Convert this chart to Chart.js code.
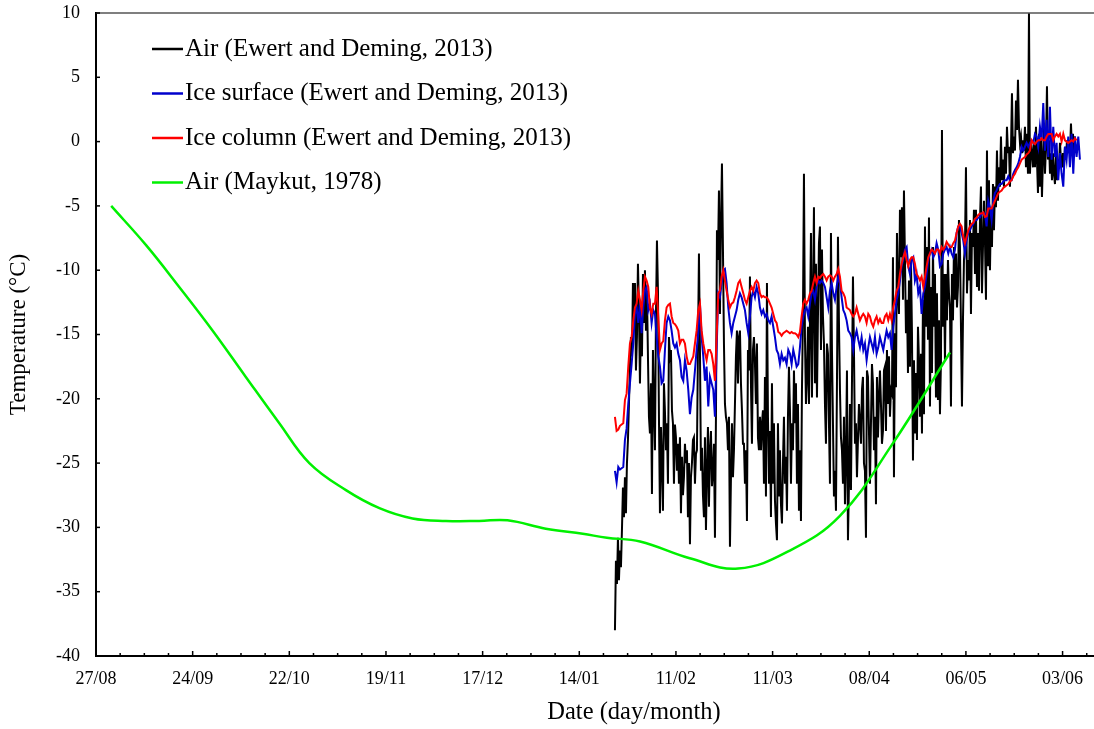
<!DOCTYPE html>
<html>
<head>
<meta charset="utf-8">
<script src="https://cdn.jsdelivr.net/npm/chart.js@4.4.1/dist/chart.umd.min.js"></script>
<style>
  html, body { margin: 0; padding: 0; background: #fff; overflow: hidden; }
  #wrap { width: 1094px; height: 729px; overflow: hidden; }
  canvas { display: block; }
</style>
</head>
<body>
<div id="wrap"><canvas id="chart" width="1172" height="729"></canvas></div>
<script>
// x values are days counted from 27/08
const tickLabels = ["27/08", "24/09", "22/10", "19/11", "17/12", "14/01", "11/02", "11/03", "08/04", "06/05", "03/06"];
const xMaxDay = 311.7;

// Air (Ewert and Deming, 2013): first sample day and sampling interval (days)
const airStartDay = 150.33;
const airStepDays = 0.2897;
const airTemps = [
  -38.0, -32.6, -34.4, -30.8, -34.1, -31.8, -33.1, -30.2, -26.9, -29.2, -26.1, -28.9,
  -25.0, -23.2, -20.4, -17.5, -15.2, -16.7, -11.0, -14.1, -11.0, -17.8, -15.2, -9.5, -13.0, -18.8,
  -14.1, -16.7, -10.3, -14.1, -10.0, -14.7, -11.6, -16.7, -21.4, -22.7, -18.8, -27.4, -16.2, -20.5,
  -24.0, -13.6, -7.7, -11.6, -21.4, -28.9, -22.2, -25.0, -28.7, -18.8, -21.0, -24.0, -21.9, -26.6,
  -15.2, -16.7, -16.2, -20.9, -21.9, -26.6, -22.0, -23.0, -25.6, -23.5, -26.6, -23.0, -28.9, -24.5,
  -27.5, -26.1, -23.5, -25.0, -24.0, -29.2, -25.0, -31.3, -26.1, -25.0, -23.2, -23.0, -26.6, -24.3,
  -24.0, -16.2, -8.7, -16.2,
  -25.6, -23.8, -27.5, -29.2, -23.0, -30.2, -25.6, -22.2, -28.4, -24.0, -22.5, -26.8, -25.6, -23.5, -30.8,
  -21.4, -6.9, -9.2, -3.8, -13.4, -6.4, -1.7, -8.4, -15.7, -20.4, -21.4, -21.9, -24.0, -21.4, -31.5,
  -26.1, -21.9, -26.1, -24.0, -20.4, -16.7, -14.7, -18.8, -15.2, -14.7, -18.8, -20.9, -23.5, -23.5,
  -26.6, -24.0, -29.5, -16.2, -17.8, -10.5, -18.8, -23.5, -16.2, -15.2, -17.3, -20.4, -15.7, -23.0,
  -24.0, -21.4, -24.0, -21.9, -20.9, -26.6, -18.3, -27.6, -11.0, -21.4, -26.6, -22.5, -29.2, -18.8,
  -26.6, -21.9, -27.9, -29.7, -31.0, -21.9, -27.6, -24.0, -28.2, -29.7, -25.0, -21.4, -26.6, -24.5,
  -28.7, -21.4, -17.5, -20.9, -26.6, -21.9, -24.0, -17.8, -21.9,
  -18.8, -26.6, -20.4, -28.7, -24.0, -29.5, -19.3, -13.6, -2.5, -15.2, -20.4, -18.3, -14.4, -20.4,
  -14.1, -7.1, -19.9, -12.6, -5.1, -18.8, -9.5, -19.9, -13.6, -7.9, -6.6, -16.2, -8.4, -13.6, -15.7,
  -20.4, -23.5, -15.7, -16.5, -21.9, -26.6, -7.1, -16.2, -21.9, -27.6, -25.6, -28.7, -18.8, -7.4,
  -14.1, -19.3, -23.0, -24.0, -26.6, -21.4, -28.2, -24.5, -17.8, -31.0, -26.6, -20.4, -27.1, -18.8,
  -10.5, -16.2, -23.5, -21.9, -26.1, -23.2, -20.4, -21.9, -23.5, -19.3, -18.3, -25.0, -25.6, -30.8,
  -17.8, -18.3, -22.5, -26.6, -21.9, -17.3, -18.8, -24.0, -21.4, -28.2, -18.3, -23.0, -19.9, -17.8,
  -20.4, -23.5, -22.5, -17.8, -17.5, -22.5, -16.2, -20.4, -16.7, -21.4, -19.3,
  -19.6, -9.0, -26.1, -14.9, -19.1, -7.1, -11.8, -13.4, -5.3, -9.0, -5.1, -12.3, -3.8, -9.2, -14.9,
  -12.3, -18.0, -10.8, -17.5, -9.2, -14.9, -24.8, -17.0, -22.7, -18.0, -23.2, -14.4, -17.0, -21.4,
  -16.5, -22.7, -12.3, -21.2, -6.6, -14.4, -8.2, -15.4, -5.9, -20.6, -11.3, -18.0, -8.2, -14.4,
  -10.3, -19.9, -11.8, -20.1, -13.9, -21.2, -17.0, 0.9, -14.4, -10.3, -17.0, -10.3, -13.9, -9.2,
  -11.8, -12.9, -20.6, -10.3, -13.9, -8.2, -12.3, -8.7, -12.9, -11.3, -6.1, -8.2, -14.4, -20.6,
  -13.9, -9.2, -8.2, -2.0, -11.8, -9.2, -10.8, -6.1, -13.4, -7.1, -8.2, -5.3, -10.3, -5.3, -11.3,
  -7.1, -11.6, -6.1, -3.5, -11.8, -8.2, -4.6, -7.7,
  -12.3, -0.7, -9.7, -3.0, -10.0, -5.1, -8.2, -3.3, -6.9, -3.5, -5.1, -0.7, -4.6, -2.0, -3.5, 0.4,
  -3.0, -1.4, -3.5, -0.4, -2.5, 1.15, -0.9, -0.4, -3.5, -0.7, 3.75, -0.9, 0.4, -0.7, 3.2, 0.9, 4.8,
  1.15, -0.1, 0.4, -0.9, 0.1, -0.7, 1.15, -2.0, 0.6, -2.5, 10.0, -2.5, 0.1, -0.9, -2.0, -0.1, -2.0,
  1.15, -1.4, -4.0, 0.6, -3.5, 0.1, -4.3, -1.2, 1.15, -2.5, -0.4, 4.3, -1.4, 0.1, -2.5, -0.9, -3.0,
  -0.9, -2.5, -3.3, -0.9, -3.0, -1.4, -2.0, -0.1, -1.4, -2.0, -0.9, -2.0, -0.4, -1.4, 0.1, -0.9,
  0.1, -0.9, 1.4, -0.7, 0.6, -0.9, 0.4
];

// Ice surface and ice column (Ewert and Deming, 2013)
const iceStartDay = 150.33;
const iceStepDays = 0.4828;
const iceSurfaceTemps = [
  -25.6, -26.5, -25.3, -25.5, -25.4, -25.3, -23.2, -22.3, -20.4, -18.8, -17.3, -15.7, -13.4, -12.9,
  -14.1, -12.6, -14.9, -12.9, -11.6, -11.3, -13.1, -12.6, -14.1, -13.1, -13.4, -15.2, -16.7, -17.5,
  -18.8, -18.6, -16.2, -14.1, -13.6, -13.9, -14.7, -15.7, -16.0, -15.7, -16.5, -17.0, -18.3, -18.6,
  -17.0, -17.8, -19.3, -21.2, -19.9, -19.3, -17.8, -16.2, -14.9,
  -12.6, -15.2, -16.7, -18.6, -17.5, -20.6, -18.3, -18.8, -19.3, -21.4, -16.2, -11.8, -12.1, -11.0,
  -10.0, -9.9, -11.0, -12.9, -14.1, -14.9, -14.1, -13.6, -13.1, -12.3, -11.8, -12.1, -12.6, -13.1,
  -14.1, -14.9, -13.6, -12.1, -11.6, -12.1, -11.3, -11.8, -12.9, -13.4, -13.1, -13.6, -13.4, -13.9,
  -14.1, -13.6, -14.4, -15.2, -16.2, -16.5, -17.3, -16.5, -17.0, -16.8, -17.3, -16.2, -16.5, -17.3, -16.2,
  -16.8, -17.5, -17.3, -16.0, -14.4, -13.6, -13.1, -12.9, -13.6, -12.6, -11.8, -11.6, -12.3, -11.3,
  -10.8, -11.0, -10.8, -11.0, -11.3, -12.1, -12.9, -11.6, -11.0, -11.8, -12.3, -11.3, -10.5, -11.0,
  -12.1, -13.1, -13.4, -13.9, -14.7, -14.9, -15.2, -16.2, -15.2, -14.7, -15.4, -16.0, -15.2, -16.2,
  -15.7, -17.0, -16.0, -15.2, -15.7, -16.2, -15.2, -16.5, -16.0, -15.2, -15.7, -16.2, -15.4, -14.7, -15.2,
  -14.9, -16.2, -14.4, -13.4, -12.3, -11.8, -10.8, -9.7, -9.2, -8.4, -8.2, -9.7, -10.3, -9.2, -9.0,
  -10.8, -10.3, -11.8, -11.3, -13.4, -11.8, -11.3, -10.3, -9.2, -8.7, -8.4, -9.0, -8.7, -7.9, -8.4,
  -9.7, -9.5, -8.7, -8.4, -8.2, -8.7, -8.2, -8.7, -9.0, -8.4, -7.1, -6.6, -6.6, -7.1, -7.7, -8.7,
  -7.7, -7.1, -6.9, -6.6, -6.4, -6.1, -6.1, -5.9, -5.9, -5.6, -5.6,
  -5.6, -6.6, -4.6, -5.1, -6.1, -4.6, -4.0, -3.8, -3.5, -3.3, -3.3, -3.1, -3.0, -3.0, -2.7, -3.0,
  -3.0, -2.5, -2.2, -2.0, -1.7, -1.2, -0.4, -0.7, -0.4, -0.1, -0.4, -0.1, 0.1, -0.1, 0.6, 0.4, -0.4,
  1.15, 0.1, 3.0, -0.7, 1.7, -1.2, 2.7, -1.4, 1.15, -1.2, -0.1, -3.0, -0.9, -2.5, -3.5, -0.4, -1.4,
  0.4, -2.0, 0.6, -2.5, 0.4, -1.2, 0.4, -1.4
];
const iceColumnTemps = [
  -21.4, -22.5, -22.4, -22.1, -22.0, -21.9, -20.1, -19.6, -17.5, -15.7, -15.2, -13.9, -12.9, -12.6,
  -11.6, -12.3, -13.1, -11.6, -10.5, -10.8, -11.3, -12.9, -13.4, -12.6, -12.6, -11.3, -13.6, -16.2,
  -15.7, -15.5, -13.9, -12.9, -12.7, -12.6, -13.6, -14.1, -14.2, -14.4, -14.7, -15.7, -15.4, -15.4,
  -15.7, -16.7, -17.3, -17.3, -17.0, -16.7, -15.7, -14.7, -13.1,
  -12.6, -14.7, -15.7, -16.4, -17.0, -16.2, -16.2, -16.5, -17.3, -18.6, -15.2, -11.8, -11.6, -10.5,
  -10.0, -10.8, -11.6, -12.3, -12.9, -12.6, -12.5, -12.1, -11.6, -11.0, -10.8, -11.3, -11.8, -12.3,
  -12.6, -12.1, -11.6, -11.3, -11.6, -11.0, -10.8, -11.0, -11.8, -12.1, -12.0, -12.1, -12.1, -12.3,
  -12.6, -12.9, -13.4, -13.9, -14.1, -14.8, -14.9, -15.1, -14.9, -14.8, -14.7, -14.8, -14.9, -14.8, -14.9,
  -14.9, -15.0, -15.2, -14.8, -13.6, -12.6, -12.3, -12.6, -12.3, -11.8, -11.6, -11.0, -10.5, -11.0,
  -10.5, -10.6, -10.4, -10.3, -10.5, -10.8, -10.5, -10.4, -10.5, -10.8, -10.5, -10.3, -9.9, -10.5,
  -11.6, -11.8, -12.1, -12.9, -13.0, -13.1, -13.4, -13.6, -13.4, -12.9, -13.4, -13.9, -13.6, -13.4,
  -13.6, -14.1, -13.4, -13.6, -14.1, -14.4, -13.9, -13.6, -14.1, -13.8, -14.1, -14.1, -13.6, -13.4, -13.9,
  -13.4, -13.9, -12.9, -12.3, -11.6, -11.3, -10.3, -9.5, -9.0, -8.6, -9.2, -9.7, -9.2, -9.0, -9.0,
  -9.5, -10.3, -10.5, -10.8, -10.5, -11.3, -10.5, -9.7, -9.0, -8.7, -8.4, -8.5, -8.7, -8.4, -8.4,
  -8.7, -8.2, -8.4, -8.2, -7.8, -8.0, -8.2, -8.2, -7.9, -7.7, -7.1, -6.6, -6.4, -6.6, -7.4, -7.9,
  -7.4, -6.9, -6.6, -6.4, -6.3, -6.0, -5.9, -5.7, -5.6, -5.6, -5.5,
  -5.85, -5.8, -5.2, -5.2, -5.2, -4.9, -4.6, -4.3, -4.0, -3.9, -3.8, -3.6, -3.5, -3.4, -3.3, -3.1,
  -3.0, -2.7, -2.5, -2.2, -2.0, -1.7, -1.4, -1.3, -1.2, -1.0, -0.9, -0.7, 0.1, -0.1, -0.2, 0.0, 0.1,
  0.1, 0.25, 0.1, 0.1, 0.4, 0.6, 0.6, 0.6, 0.1, 0.4, 0.6, 0.4, 0.6, 0.0, 0.6, 0.1, 0.0, -0.1, 0.0,
  0.1, 0.0, 0.25, 0.1
];

// Air (Maykut, 1978)
const maykutDays = [4.4, 14.5, 24.1, 33.8, 43.4, 53.1, 61.8, 72.4, 82.1, 91.7, 101.4, 111.0, 119.2,
  130.3, 141.0, 148.0, 157.6, 172.0, 186.0, 201.0, 215.5, 230.5, 247.4];
const maykutTemps = [-5.0, -8.05, -11.3, -14.7, -18.3, -21.9, -25.0, -27.1, -28.5, -29.3, -29.5, -29.5, -29.45,
  -30.1, -30.5, -30.8, -31.1, -32.4, -33.2, -31.8, -29.1, -23.6, -16.4];

const FONT = "'Liberation Serif', 'Times New Roman', serif";
Chart.defaults.font.family = FONT;
Chart.defaults.color = "#000";

function series(start, step, temps) {
  return temps.map((t, i) => ({ x: start + i * step, y: t }));
}

// axis frame, inward tick marks and the in-plot legend
const frameAndLegend = {
  id: "frameAndLegend",
  afterDraw(chart) {
    const { ctx, chartArea: a, scales } = chart;
    ctx.save();
    ctx.lineCap = "butt";
    ctx.strokeStyle = "#555";
    ctx.lineWidth = 1.5;
    ctx.beginPath();
    ctx.moveTo(a.left, a.top);
    ctx.lineTo(a.right, a.top);
    ctx.stroke();

    ctx.strokeStyle = "#000";
    ctx.lineWidth = 1.5;
    scales.x.ticks.forEach((t) => {
      const px = scales.x.getPixelForValue(t.value);
      const len = t.value % 28 === 0 ? 5 : 3;
      ctx.beginPath();
      ctx.moveTo(px, a.bottom);
      ctx.lineTo(px, a.bottom - len);
      ctx.stroke();
    });
    scales.y.ticks.forEach((t) => {
      const py = scales.y.getPixelForValue(t.value);
      ctx.beginPath();
      ctx.moveTo(a.left, py);
      ctx.lineTo(a.left + 4, py);
      ctx.stroke();
    });

    ctx.font = "25px " + FONT;
    ctx.textBaseline = "middle";
    ctx.textAlign = "left";
    chart.data.datasets.forEach((ds, i) => {
      const y = a.top + 36 + i * 44.5;
      ctx.strokeStyle = ds.borderColor;
      ctx.lineWidth = 2.5;
      ctx.beginPath();
      ctx.moveTo(a.left + 56, y);
      ctx.lineTo(a.left + 87, y);
      ctx.stroke();
      ctx.fillStyle = "#000";
      ctx.fillText(ds.label, a.left + 89, y);
    });
    ctx.restore();
  }
};

new Chart(document.getElementById("chart"), {
  type: "line",
  data: {
    datasets: [
      {
        label: "Air (Ewert and Deming, 2013)",
        data: series(airStartDay, airStepDays, airTemps),
        borderColor: "#000000",
        borderWidth: 2,
        order: 4
      },
      {
        label: "Ice surface (Ewert and Deming, 2013)",
        data: series(iceStartDay, iceStepDays, iceSurfaceTemps),
        borderColor: "#0000cc",
        borderWidth: 2,
        order: 3
      },
      {
        label: "Ice column (Ewert and Deming, 2013)",
        data: series(iceStartDay, iceStepDays, iceColumnTemps),
        borderColor: "#ff0000",
        borderWidth: 2,
        order: 2
      },
      {
        label: "Air (Maykut, 1978)",
        data: maykutDays.map((d, i) => ({ x: d, y: maykutTemps[i] })),
        borderColor: "#00f000",
        borderWidth: 2.5,
        tension: 0.4,
        order: 1
      }
    ]
  },
  options: {
    responsive: false,
    animation: false,
    devicePixelRatio: 1,
    layout: { padding: { top: 13, left: 0, right: 0, bottom: 0 } },
    elements: { point: { radius: 0 }, line: { tension: 0 } },
    plugins: { legend: { display: false }, tooltip: { enabled: false } },
    scales: {
      x: {
        type: "linear",
        min: 0,
        max: xMaxDay,
        afterBuildTicks: (scale) => {
          const ticks = [];
          for (let d = 0; d <= xMaxDay; d += 7) ticks.push({ value: d });
          scale.ticks = ticks;
        },
        afterFit: (scale) => { scale.height = 73; },
        grid: { display: false, drawTicks: false },
        border: { display: true, color: "#000", width: 2 },
        ticks: {
          autoSkip: false,
          maxRotation: 0,
          padding: 12,
          font: { size: 18, lineHeight: 1.2 },
          callback: (v) => (v % 28 === 0 && tickLabels[v / 28]) ? tickLabels[v / 28] : ""
        },
        title: {
          display: true,
          text: "Date (day/month)",
          font: { size: 24.5, lineHeight: 1 },
          padding: { top: 0, bottom: 4 }
        }
      },
      y: {
        min: -40,
        max: 10,
        afterFit: (scale) => {
          scale.width = 96;
          scale.paddingTop = 0;
          scale.paddingBottom = 0;
        },
        grid: { display: false, drawTicks: false },
        border: { display: true, color: "#000", width: 2 },
        ticks: {
          stepSize: 5,
          padding: 16,
          font: { size: 18 },
          callback: (v) => String(v)
        },
        title: {
          display: true,
          text: "Temperature (°C)",
          font: { size: 23, lineHeight: 1 },
          padding: { top: 7, bottom: 0 }
        }
      }
    }
  },
  plugins: [frameAndLegend]
});
</script>
</body>
</html>
